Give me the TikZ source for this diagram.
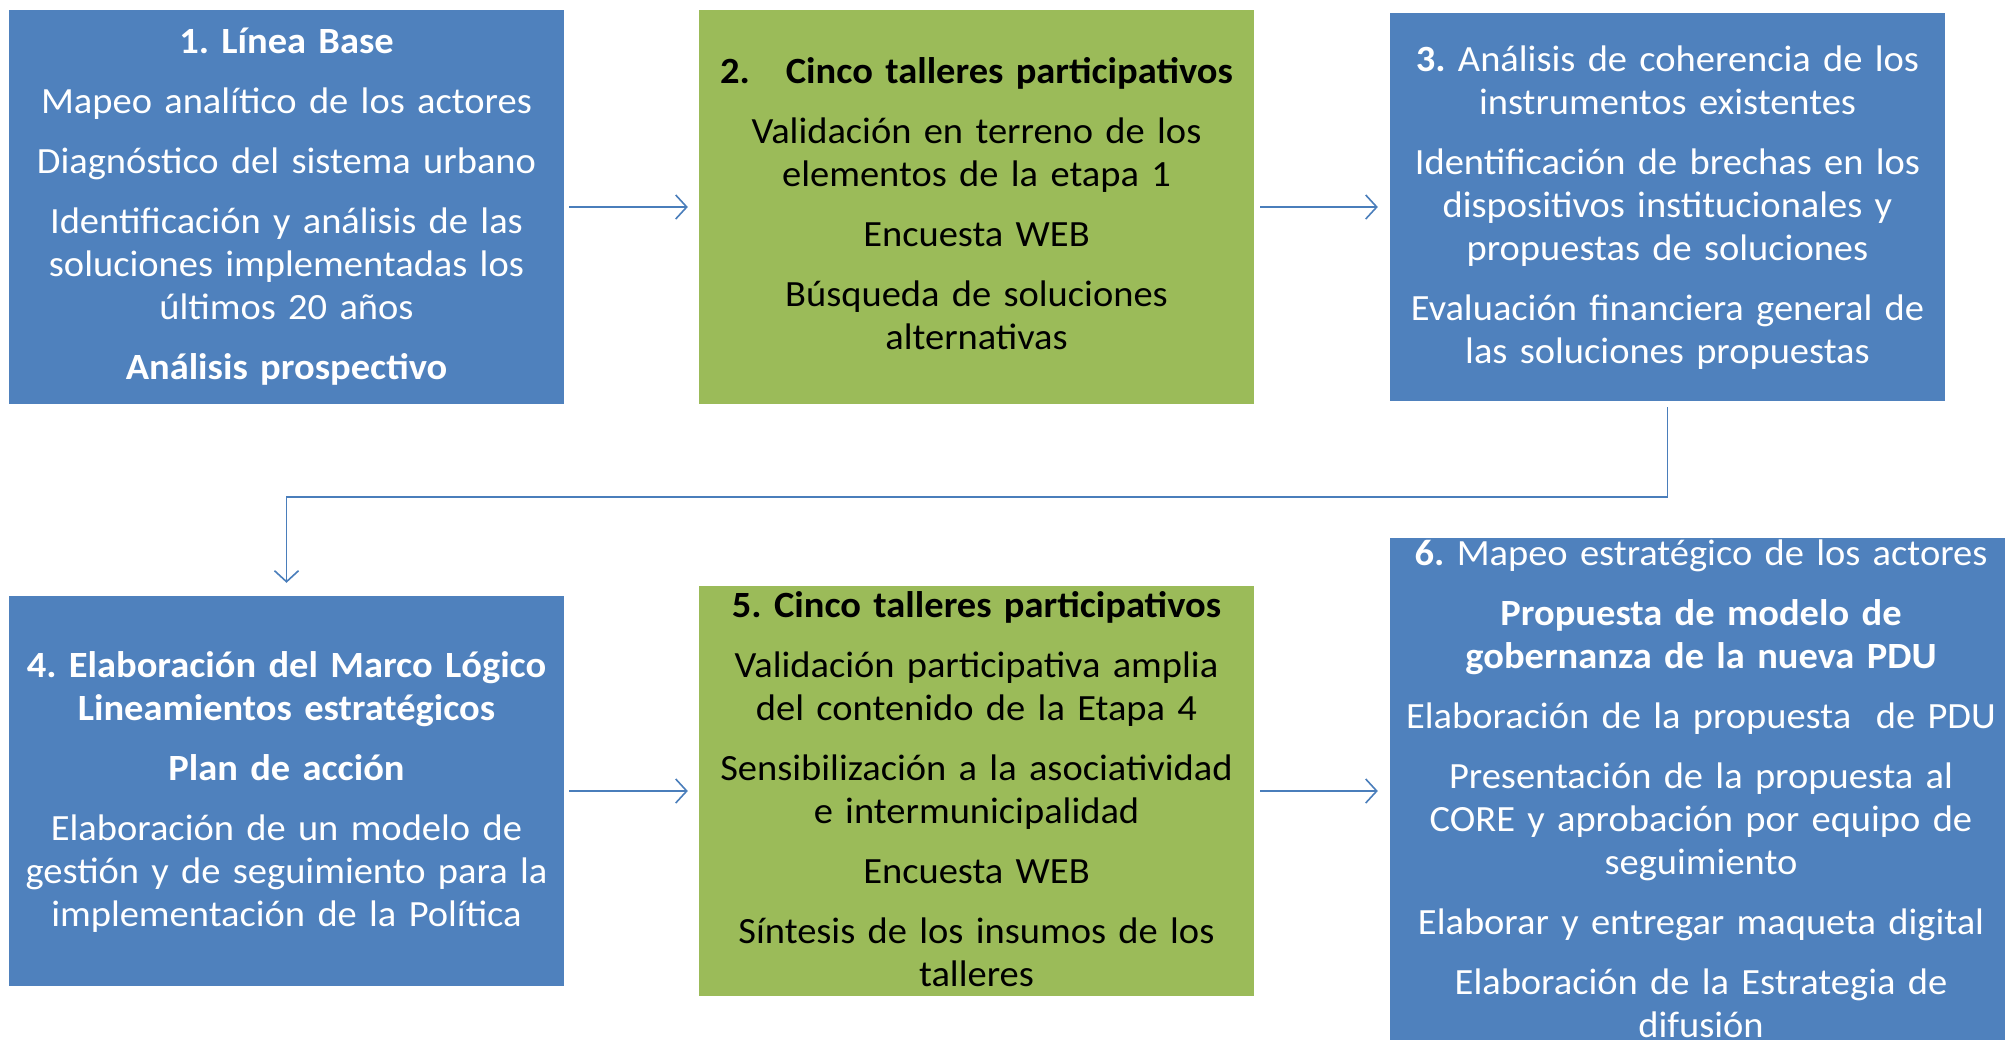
\documentclass[tikz,border=0pt]{standalone}
\usepackage{fontspec}
\setmainfont{Carlito}[FakeStretch=1.04]
\usetikzlibrary{arrows.meta,calc}
\definecolor{boxblue}{HTML}{4F81BD}
\definecolor{boxgreen}{HTML}{9BBB59}
\definecolor{linkblue}{HTML}{4A7EBB}
\newcommand{\pgap}{\\[17pt]}
\frenchspacing
\begin{document}
\begin{tikzpicture}[x=1pt,y=-1pt,
  panel/.style={rectangle,draw=none,inner sep=0pt,minimum width=555pt},
  bluepanel/.style={panel,fill=boxblue},
  greenpanel/.style={panel,fill=boxgreen},
  txt/.style={anchor=base,align=center,text width=610pt,inner sep=0pt,
    font=\fontsize{37}{43}\selectfont\frenchspacing},
  conn/.style={draw=linkblue,line width=1.6pt,
    -{Straight Barb[length=11pt,width=24pt,line width=1.6pt]}},
]
\path[use as bounding box,clip] (0,0) rectangle (2005,1039);
\fill[white] (0,0) rectangle (2005,1039);

\node[bluepanel,minimum height=394pt] (b1) at (286.5,207) {};
\node[greenpanel,minimum height=394pt] (b2) at (976.5,207) {};
\node[bluepanel,minimum height=388pt] (b3) at (1667.5,207) {};
\node[bluepanel,minimum height=390pt] (b4) at (286.5,791) {};
\node[greenpanel,minimum height=410pt] (b5) at (976.5,791) {};
\node[bluepanel,minimum width=625pt,minimum height=562pt] (b6) at (1702.5,819) {};

\node[txt,text=white] (t1) at (286.5,53) {{\bfseries 1. Línea Base}\pgap
Mapeo analítico de los actores\pgap
Diagnóstico del sistema urbano\pgap
Identificación y análisis de las\\ soluciones implementadas los\\ últimos 20 años\pgap
{\bfseries Análisis prospectivo}};

\node[txt,text=black] (t2) at (976.5,83) {{\bfseries 2.\hspace{36pt}Cinco talleres participativos}\pgap
Validación en terreno de los\\ elementos de la etapa 1\pgap
Encuesta WEB\pgap
Búsqueda de soluciones\\ alternativas};

\node[txt,text=white] (t3) at (1667.5,71) {{\bfseries 3.} Análisis de coherencia de los\\ instrumentos existentes\pgap
Identificación de brechas en los\\ dispositivos institucionales y\\ propuestas de soluciones\pgap
Evaluación financiera general de\\ las soluciones propuestas};

\node[txt,text=white] (t4) at (286.5,677) {{\bfseries 4. Elaboración del Marco Lógico\\ Lineamientos estratégicos}\pgap
{\bfseries Plan de acción}\pgap
Elaboración de un modelo de\\ gestión y de seguimiento para la\\ implementación de la Política};

\node[txt,text=black] (t5) at (976.5,617) {{\bfseries 5. Cinco talleres participativos}\pgap
Validación participativa amplia\\ del contenido de la Etapa 4\pgap
Sensibilización a la asociatividad\\ e intermunicipalidad\pgap
Encuesta WEB\pgap
Síntesis de los insumos de los\\ talleres};

\node[txt,text=white] (t6) at (1701,565) {{\bfseries 6.} Mapeo estratégico de los actores\pgap
{\bfseries Propuesta de modelo de\\ gobernanza de la nueva PDU}\pgap
Elaboración de la propuesta\ \ de PDU\pgap
Presentación de la propuesta al\\ CORE y aprobación por equipo de\\ seguimiento\pgap
Elaborar y entregar maqueta digital\pgap
Elaboración de la Estrategia de\\ difusión};

\coordinate (turn) at (0,497);
\draw[conn,shorten <=5pt,shorten >=11pt] (b1.east) -- (b2.west);
\draw[conn,shorten <=6pt,shorten >=12pt] (b2.east) -- (b3.west);
\draw[conn,shorten <=6pt,shorten >=13pt] (b3.south) -- (b3.south |- turn) -| (b4.north);
\draw[conn,shorten <=5pt,shorten >=11pt] (b4.east) -- (b5.west);
\draw[conn,shorten <=6pt,shorten >=12pt] (b5.east) -- (b5.east -| b6.west);
\end{tikzpicture}
\end{document}
